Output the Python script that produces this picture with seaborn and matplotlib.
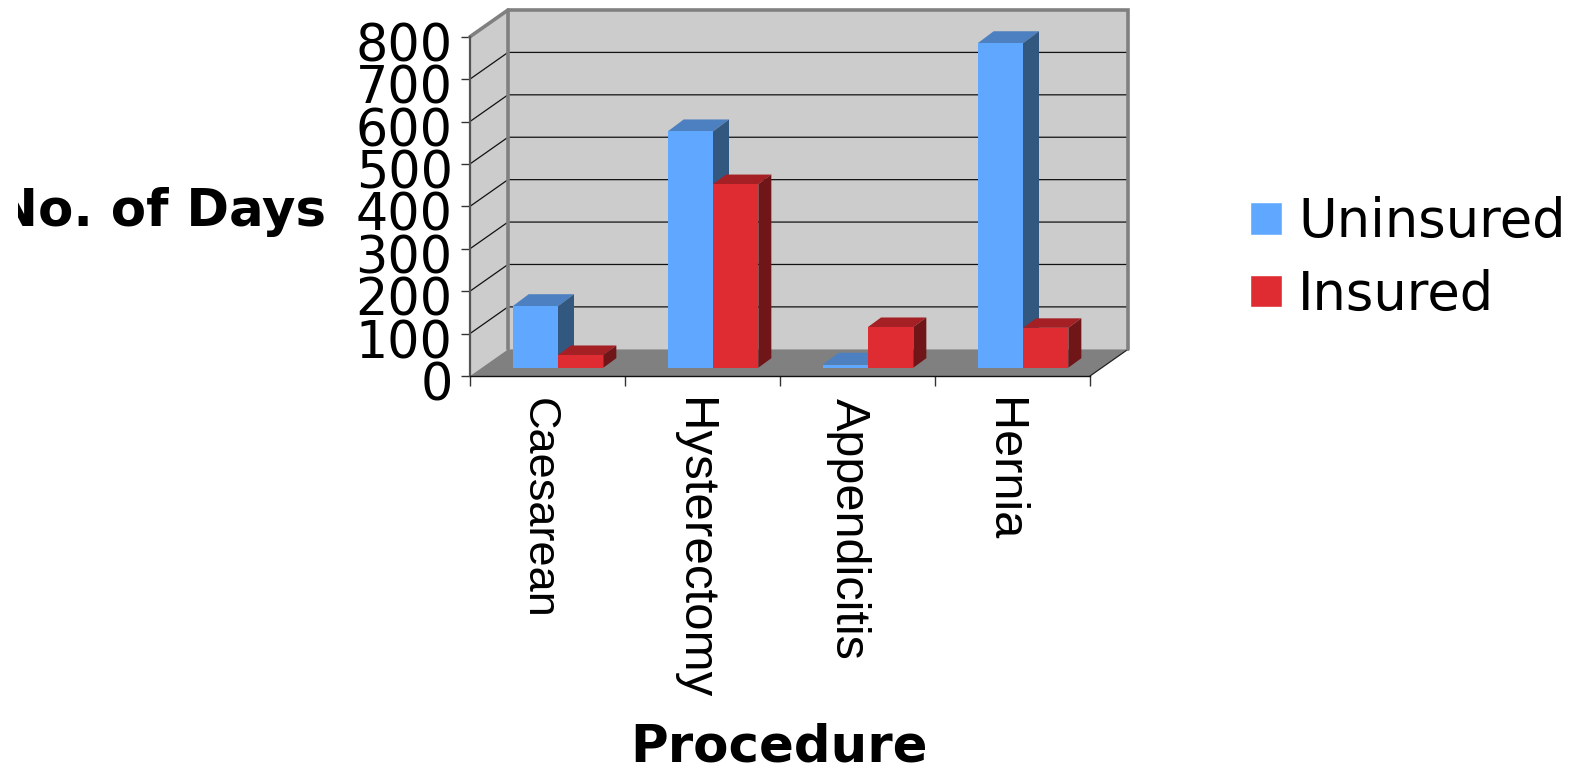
import matplotlib
matplotlib.use("Agg")
import matplotlib.pyplot as plt
import matplotlib.transforms as mtrans
from matplotlib.patches import Polygon
import pandas as pd
import seaborn as sns

procedures = ["Caesarean", "Hysterectomy", "Appendicitis", "Hernia"]
uninsured = [145, 557, 7, 765]
insured = [30, 433, 96, 94]
series_names = ["Uninsured", "Insured"]
y_ticks = [0, 100, 200, 300, 400, 500, 600, 700, 800]

W, H = 1570, 766
AX_L, AX_R, AX_B, AX_T = 470, 1090, 376, 36.7   # axes box in image pixels
PX_X = (AX_R - AX_L) / 4
PX_Y = (AX_B - AX_T) / 800
WALL_DX, WALL_DY = 38 / PX_X, 26.7 / PX_Y        # depth of the chart box, data units
BAR_DEPTH = [(16 / PX_X, 12 / PX_Y), (13 / PX_X, 9.5 / PX_Y)]  # depth of one bar per series, data units

sns.set_theme(style="white", rc={"axes.facecolor": "none", "text.color": "black",
                                 "xtick.color": "black", "ytick.color": "black"})
plt.rcParams["font.family"] = ["DejaVu Sans"]

fig = plt.figure(figsize=(W / 100, H / 100), dpi=100, facecolor="white")
ax = fig.add_axes([AX_L / W, (H - AX_B) / H, (AX_R - AX_L) / W, (AX_B - AX_T) / H])

df = pd.DataFrame({
    "Procedure": procedures * 2,
    "Days": uninsured + insured,
    "Series": [series_names[0]] * 4 + [series_names[1]] * 4,
})
palette = {"Uninsured": "#60A8FF", "Insured": "#DE2C32"}
sns.barplot(data=df, x="Procedure", y="Days", hue="Series", hue_order=series_names,
            palette=palette, width=0.585, gap=0, dodge=True, saturation=1, ax=ax, legend=True)
ax.set_xlim(-0.5, 3.5)
ax.set_ylim(0, 800)
ax.set_xlabel("")
ax.set_ylabel("")

# Chart box: walls and floor
x0, x1 = -0.5, 3.5
grey = "#808080"
ax.add_patch(Polygon([(x0, 0), (x0 + WALL_DX, WALL_DY), (x1 + WALL_DX, WALL_DY), (x1 + WALL_DX, 800 + WALL_DY),
                      (x0 + WALL_DX, 800 + WALL_DY), (x0, 800)], closed=True, fc="#CCCCCC", ec="none",
                     clip_on=False, zorder=0.5))
ax.add_patch(Polygon([(x0, 0), (x1, 0), (x1 + WALL_DX, WALL_DY), (x0 + WALL_DX, WALL_DY)], closed=True,
                     fc=grey, ec="none", clip_on=False, zorder=0.6))
for v in y_ticks[1:-1]:
    ax.plot([x0, x0 + WALL_DX, x1 + WALL_DX], [v, v + WALL_DY, v + WALL_DY], color="#111111", lw=0.9,
            clip_on=False, zorder=0.7)
ax.plot([x1, x1 + WALL_DX], [0, WALL_DY], color="#222222", lw=0.9, clip_on=False, zorder=0.8)
ax.plot([x0, x0 + WALL_DX, x1 + WALL_DX, x1 + WALL_DX], [800, 800 + WALL_DY, 800 + WALL_DY, WALL_DY],
        color=grey, lw=2.6, clip_on=False, zorder=0.9, solid_joinstyle="miter")
ax.plot([x0 + WALL_DX, x0 + WALL_DX], [WALL_DY, 800 + WALL_DY], color=grey, lw=2.6, clip_on=False, zorder=0.9)

# Bars: fronts from seaborn, shifted into the box, then top and side faces from each bar's own size
offset = ax.transData + mtrans.Affine2D().translate(10.5, 8.3)
shades = {0: ("#4D80C0", "#325880"), 1: ("#A42025", "#701518")}
for i, cont in enumerate(ax.containers):
    top_c, side_c = shades[i]
    bdx, bdy = BAR_DEPTH[i]
    for bar in cont:
        bx0, bx1, h = bar.get_x(), bar.get_x() + bar.get_width(), bar.get_height()
        bar.set_transform(offset)
        bar.set_clip_on(False)
        bar.set_zorder(3.5 + 2 * i)
        bar.set_edgecolor("none")
        ax.add_patch(Polygon([(bx0, h), (bx1, h), (bx1 + bdx, h + bdy), (bx0 + bdx, h + bdy)],
                             closed=True, fc=top_c, ec="none", transform=offset, clip_on=False, zorder=3 + 2 * i))
        ax.add_patch(Polygon([(bx1, 0), (bx1, h), (bx1 + bdx, h + bdy), (bx1 + bdx, bdy)],
                             closed=True, fc=side_c, ec="none", transform=offset, clip_on=False, zorder=3 + 2 * i))

# Axes lines and ticks
for s in ("top", "right"):
    ax.spines[s].set_visible(False)
ax.spines["left"].set_color("#555555")
ax.spines["left"].set_linewidth(1.6)
ax.spines["bottom"].set_color("#111111")
ax.spines["bottom"].set_linewidth(1.0)
ax.set_yticks(y_ticks)
ax.tick_params(axis="y", length=6.5, width=1.0, color="#333333", labelsize=36.5, pad=6, left=True, labelcolor="black")
for lab in ax.get_yticklabels():
    lab.set_transform(lab.get_transform() + mtrans.Affine2D().translate(0, -5))

ax.set_xticks([x0, 0.5, 1.5, 2.5, x1], minor=True)
ax.tick_params(axis="x", which="minor", length=7, width=1.0, color="#333333", bottom=True)
ax.set_xticks(range(len(procedures)))
ax.tick_params(axis="x", which="major", length=0, pad=16)
label_sizes = [32.5, 35.5, 35, 35]
ax.set_xticklabels(procedures, rotation=270, family="Liberation Sans", ha="center", va="top", color="black")
for lab, size in zip(ax.get_xticklabels(), label_sizes):
    lab.set_fontsize(size)
    lab.set_transform(lab.get_transform() + mtrans.Affine2D().translate(-9, 0))

# Legend
handles, labels = ax.get_legend_handles_labels()
ax.legend(handles, labels, loc="center left", bbox_to_anchor=(1239 / W, 1 - 258.5 / H),
          bbox_transform=fig.transFigure, frameon=False, fontsize=38, handlelength=0.62, handleheight=0.58,
          handletextpad=0.3, labelspacing=0.385, borderpad=0, borderaxespad=0.2, labelcolor="black")

# Titles
fig.text(779 / W, 1 - 748 / H, "Procedure", fontsize=37, fontweight="bold", ha="center", va="center", color="black")
yl = fig.text(326 / W, 1 - 212 / H, "No. of Days", fontsize=37, fontweight="bold", ha="right", va="center", color="black")
yl.set_clip_box(mtrans.Bbox([[18, 0], [W, H]]))
yl.set_clip_on(True)

fig.savefig("out.png", dpi=100, facecolor="white")
